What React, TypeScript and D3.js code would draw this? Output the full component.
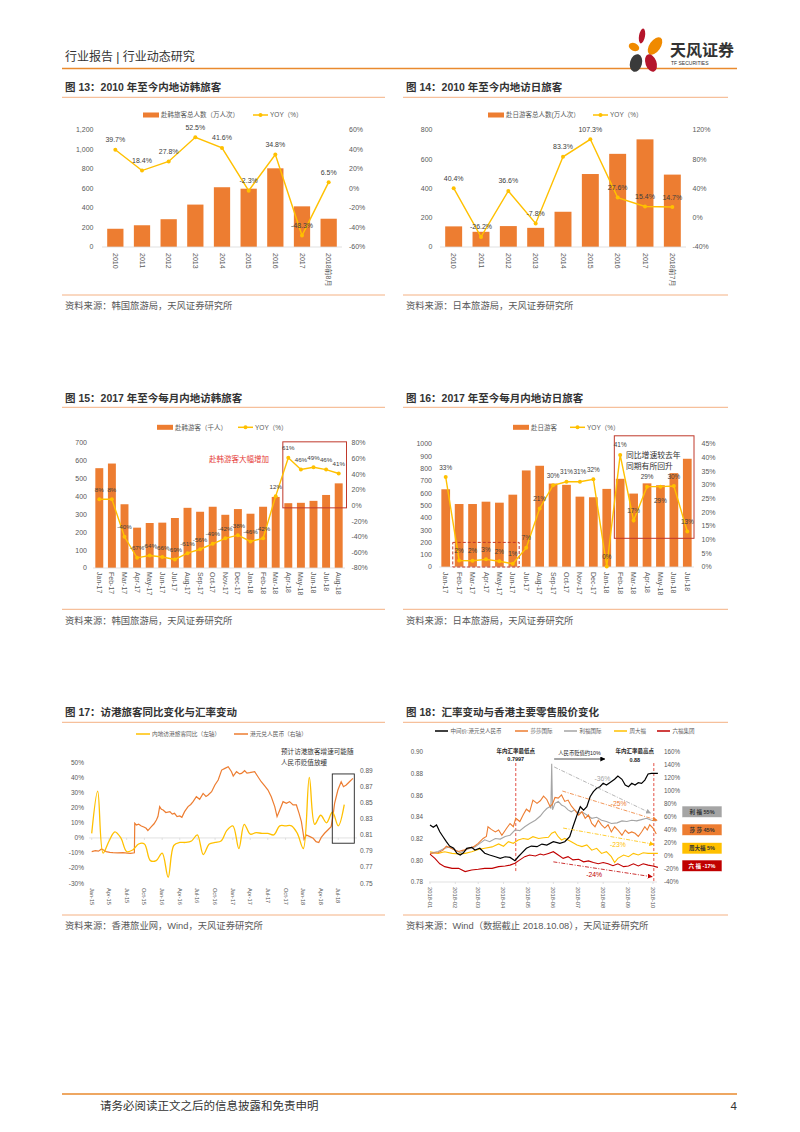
import React from "react";
import * as d3 from "d3";

const SANS = "'Liberation Sans', Arial, 'Noto Sans CJK SC', sans-serif";
const ORANGE = "#ED7D31";
const GOLD = "#FFC000";
const TXT = "#595959";
const RULE = "#F4B183";

// ---------------- 图13 ----------------
const krYears = ["2010", "2011", "2012", "2013", "2014", "2015", "2016", "2017", "2018前8月"];
const krVisitors = [187, 223, 285, 435, 613, 598, 807, 417, 290];
const krYoy = [39.7, 18.4, 27.8, 52.5, 41.6, -2.3, 34.8, -48.3, 6.5];

// ---------------- 图14 ----------------
const jpYears = ["2010", "2011", "2012", "2013", "2014", "2015", "2016", "2017", "2018前7月"];
const jpVisitors = [141, 104, 143, 131, 241, 499, 637, 736, 495];
const jpYoy = [40.4, -26.2, 36.6, -7.8, 83.3, 107.3, 27.6, 15.4, 14.7];

// ---------------- 图15 ----------------
const krMonths = ["Jan-17", "Feb-17", "Mar-17", "Apr-17", "May-17", "Jun-17", "Jul-17", "Aug-17", "Sep-17", "Oct-17", "Nov-17", "Dec-17", "Jan-18", "Feb-18", "Mar-18", "Apr-18", "May-18", "Jun-18", "Jul-18", "Aug-18"];
const krMonthly = [559, 585, 357, 226, 252, 254, 280, 337, 315, 343, 298, 330, 304, 343, 398, 363, 365, 376, 409, 474];
const krMonthlyYoy = [8, 8, -40, -67, -64, -66, -69, -61, -56, -49, -42, -38, -46, -42, 12, 61, 46, 49, 46, 41];

// ---------------- 图16 ----------------
const jpMonths = ["Jan-17", "Feb-17", "Mar-17", "Apr-17", "May-17", "Jun-17", "Jul-17", "Aug-17", "Sep-17", "Oct-17", "Nov-17", "Dec-17", "Jan-18", "Feb-18", "Mar-18", "Apr-18", "May-18", "Jun-18", "Jul-18"];
const jpMonthly = [632, 512, 512, 531, 523, 588, 785, 823, 678, 668, 572, 567, 635, 717, 597, 680, 665, 763, 880];
const jpMonthlyYoy = [32.9, 2.4, 2.3, 2.8, 2.1, 1.2, 7, 21.4, 29.9, 31.2, 31.2, 32.1, 0.2, 41, 17, 29.4, 29.4, 29.6, 13];

// ---------------- 图17 ----------------
const hkYoyStart = new Date(2015, 0, 1);
const hkYoy = [3, 31, -10, -2, 4, 0, -9, -8, -4, -4, -15, -15, -10, -26, -5, -3, -3, -2, 2, -11, -4, -3, -2, 5, 8, -7, 9, 2.5, 3.5, 3, 3, 2, 8, 8, 8, 3, -7, 40, 9, 15, 10, 17, 8, 22];
const hkdCny: [string, number][] = [
  ["2015-01-01", 0.7894], ["2015-01-20", 0.7905], ["2015-02-05", 0.79], ["2015-02-21", 0.7927], ["2015-03-05", 0.7912],
  ["2015-03-17", 0.7894], ["2015-04-05", 0.7885], ["2015-04-21", 0.7881], ["2015-05-15", 0.7878], ["2015-06-12", 0.7881],
  ["2015-07-05", 0.7876], ["2015-07-21", 0.7873], ["2015-08-10", 0.788], ["2015-08-12", 0.8246], ["2015-08-20", 0.8225],
  ["2015-09-01", 0.8235], ["2015-09-15", 0.8213], ["2015-09-28", 0.82], ["2015-10-10", 0.8184], ["2015-10-19", 0.8155],
  ["2015-11-06", 0.8204], ["2015-11-20", 0.824], ["2015-12-02", 0.8287], ["2015-12-10", 0.833], ["2015-12-19", 0.8453],
  ["2015-12-28", 0.842], ["2016-01-06", 0.8411], ["2016-01-20", 0.838], ["2016-02-10", 0.8391], ["2016-02-22", 0.836],
  ["2016-03-05", 0.837], ["2016-03-18", 0.833], ["2016-04-01", 0.8337], ["2016-04-12", 0.832], ["2016-04-26", 0.8391],
  ["2016-05-14", 0.8453], ["2016-05-28", 0.848], ["2016-06-09", 0.8515], ["2016-06-26", 0.8577], ["2016-07-13", 0.8544],
  ["2016-07-31", 0.8618], ["2016-08-15", 0.858], ["2016-08-26", 0.8598], ["2016-09-13", 0.8639], ["2016-09-30", 0.8722],
  ["2016-10-17", 0.8784], ["2016-11-04", 0.8908], ["2016-11-21", 0.8929], ["2016-12-08", 0.895], ["2016-12-25", 0.8888],
  ["2017-01-03", 0.8834], ["2017-01-20", 0.8888], ["2017-02-05", 0.886], ["2017-02-15", 0.8867], ["2017-03-03", 0.89],
  ["2017-03-15", 0.887], ["2017-03-29", 0.8875], ["2017-04-24", 0.8888], ["2017-05-11", 0.8825], ["2017-05-28", 0.8763],
  ["2017-06-15", 0.871], ["2017-07-02", 0.866], ["2017-07-19", 0.8577], ["2017-08-06", 0.8453], ["2017-08-18", 0.8329],
  ["2017-09-01", 0.8411], ["2017-09-18", 0.8515], ["2017-10-05", 0.8494], ["2017-10-22", 0.8515], ["2017-11-09", 0.8474],
  ["2017-11-26", 0.8474], ["2017-12-10", 0.837], ["2017-12-22", 0.8267], ["2018-01-05", 0.8047], ["2018-01-17", 0.8101],
  ["2018-02-04", 0.808], ["2018-02-21", 0.8059], ["2018-03-08", 0.8018], ["2018-03-22", 0.8006], ["2018-04-04", 0.8072],
  ["2018-04-21", 0.8122], ["2018-05-08", 0.8163], ["2018-05-25", 0.8204], ["2018-06-03", 0.8329], ["2018-06-12", 0.8494],
  ["2018-06-29", 0.866], ["2018-07-16", 0.8763], ["2018-07-28", 0.8701], ["2018-08-11", 0.8722], ["2018-08-28", 0.8763],
  ["2018-09-15", 0.8805],
];

// ---------------- 图18 (day offset from 2018-01-01, value) ----------------
const cnyMid: [number, number][] = [[0, .8326], [4, .8305], [8, .8326], [12, .8264], [16, .8218], [20, .8172], [24, .8132], [29, .8111], [33, .8065], [37, .8049], [41, .807], [45, .8111], [51, .812], [55, .8095], [61, .8111], [67, .8065], [73, .8049], [80, .8033], [86, .8018], [92, .8033], [98, .8027], [104, .7997], [108, .8033], [112, .8065], [118, .8111], [124, .8132], [131, .8126], [137, .815], [143, .8141], [151, .8172], [159, .8157], [165, .8172], [171, .8218], [175, .831], [180, .8418], [184, .8495], [188, .8464], [192, .8495], [196, .8587], [200, .8634], [204, .8665], [208, .868], [212, .8711], [216, .8695], [220, .8717], [226, .8748], [230, .8778], [235, .8748], [239, .8695], [243, .868], [247, .8711], [251, .8695], [255, .8717], [259, .8711], [263, .8741], [267, .8797], [271, .8803], [279, .8803]];
const sasa: [number, number][] = [[0, 4], [10, 5], [16, 9], [20, 15], [24, 13], [29, 10], [35, 7], [41, 9], [47, 12], [53, 14], [59, 19.5], [65, 27], [69, 30], [71, 45], [75, 41], [80, 37], [84, 40], [88, 32], [94, 43], [98, 50], [102, 45], [105, 58], [110, 53], [114, 63], [118, 72], [122, 68], [126, 86], [131, 81], [135, 85], [139, 92], [143, 87], [147, 76], [150, 80], [153, 90], [157, 89], [161, 94], [165, 84], [169, 86], [173, 77], [177, 71], [182, 63], [186, 68], [190, 58], [194, 63], [198, 50], [202, 45], [206, 55], [210, 48], [214, 43], [218, 48], [222, 37], [226, 45], [230, 40], [235, 32], [239, 40], [243, 35], [247, 37], [251, 35], [255, 30], [259, 37], [263, 45], [266, 40], [269, 48], [273, 43], [277, 34]];
const lifung: [number, number][] = [[0, 4], [10, 7], [18, 12], [24, 14], [31, 9], [37, 5], [43, 9], [49, 12], [55, 14], [61, 19.5], [67, 25], [73, 22], [80, 27], [86, 26], [92, 30], [98, 32], [104, 40], [110, 39], [116, 45], [122, 50], [129, 55], [135, 61.5], [139, 68], [143, 73], [147, 76], [148, 73], [149, 142], [150, 71], [153, 81], [157, 84], [161, 78.5], [165, 76], [169, 71], [173, 68], [177, 71], [182, 66], [186, 68], [192, 63], [198, 58], [204, 59.5], [210, 55], [216, 53], [222, 50], [229, 51], [235, 54], [241, 53], [247, 55], [253, 54], [259, 56], [265, 58], [271, 55], [277, 54]];
const ctf: [number, number][] = [[0, 6.6], [10, 4], [18, 6.6], [27, 4], [35, 3], [43, 4], [51, 6.6], [59, 10], [67, 12], [76, 14], [84, 18.5], [90, 15], [96, 22], [102, 19.5], [108, 24.6], [114, 27], [120, 25.6], [126, 29.7], [133, 27], [139, 28], [145, 28.7], [149, 35], [153, 37.4], [157, 29.7], [161, 24.6], [165, 27], [169, 24.6], [173, 22], [180, 17], [186, 14.4], [192, 17], [198, 9], [204, 11.8], [210, 4], [216, 6.6], [222, -1], [226, -10], [230, -3.6], [237, 1.5], [243, -1], [249, 4], [255, 1.5], [261, 5], [267, 4], [273, 4], [279, 4]];
const lukfook: [number, number][] = [[0, 3], [6, -3.6], [12, -12], [18, -16.4], [27, -19], [35, -19], [43, -24], [51, -21.5], [59, -20.5], [67, -19], [76, -19], [84, -16.4], [92, -15.4], [98, -14], [104, -11], [110, -6], [116, -1], [122, 1.5], [129, 0], [135, 3], [139, 1.5], [145, 4], [151, 6.6], [157, 1.5], [163, -3.6], [169, -1], [175, -6], [182, -5], [188, -9], [194, -7.5], [200, -10], [206, -12], [212, -10], [218, -12], [224, -15], [230, -12], [237, -16.4], [243, -15.4], [249, -12], [255, -15.4], [261, -12], [267, -14], [273, -15.4], [279, -17.5]];
const lowDay = 105;
const highDay = 274;
const trends = [
  { color: "#A5A5A5", from: [152, 137], to: [270, 66], label: "-36%", at: [211, 119] },
  { color: ORANGE, from: [162, 100], to: [278, 55], label: "-25%", at: [231, 80] },
  { color: GOLD, from: [163, 43], to: [274, 18], label: "-23%", at: [230, 17] },
  { color: "#C00000", from: [151, -9], to: [272, -32], label: "-24%", at: [201, -28] },
];
const endBoxes = [
  { text: "利 福  55%", fill: "#A5A5A5", color: "#333" },
  { text: "莎 莎  45%", fill: ORANGE, color: "#333" },
  { text: "周大福  5%", fill: GOLD, color: "#333" },
  { text: "六 福  -17%", fill: "#C00000", color: "#fff" },
];

type ComboCfg = {
  cats: string[]; bars: number[]; yoy: number[];
  l: number; r: number; t: number; b: number; pad: number;
  leftDomain: [number, number]; leftStep: number; leftFmt: (v: number) => string; leftX: number;
  rightDomain: [number, number]; rightStep: number; rightX: number;
  catY: number; labelFmt: (v: number) => string; below?: number[]; labelFs?: number;
  legendY: number; barLegendX: number; barLegendText: string; lineLegendX: number;
  extras?: (s: any) => React.ReactNode;
};

function ComboChart(c: ComboCfg) {
  const xb = d3.scaleBand<string>().domain(c.cats).range([c.l, c.r]).paddingInner(c.pad).paddingOuter(c.pad / 2);
  const yl = d3.scaleLinear().domain(c.leftDomain).range([c.b, c.t]);
  const yr = d3.scaleLinear().domain(c.rightDomain).range([c.b, c.t]);
  const lt = d3.range(c.leftDomain[0], c.leftDomain[1] + 1e-9, c.leftStep);
  const rt = d3.range(c.rightDomain[0], c.rightDomain[1] + 1e-9, c.rightStep);
  const cx = (i: number) => (xb(c.cats[i]) as number) + xb.bandwidth() / 2;
  const path = d3.line<number>().x((_, i) => cx(i)).y((v) => yr(v))(c.yoy) || "";
  const fs = 7;
  const lfs = c.labelFs || 7;
  return (
    <g fontFamily={SANS}>
      <rect x={c.barLegendX} y={c.legendY - 2.5} width={16} height={5} fill={ORANGE} />
      <text x={c.barLegendX + 18} y={c.legendY} dy="0.35em" fontSize={6.5} fill={TXT}>{c.barLegendText}</text>
      <line x1={c.lineLegendX} x2={c.lineLegendX + 15} y1={c.legendY} y2={c.legendY} stroke={GOLD} strokeWidth={1.5} />
      <circle cx={c.lineLegendX + 7.5} cy={c.legendY} r={2} fill={GOLD} />
      <text x={c.lineLegendX + 17} y={c.legendY} dy="0.35em" fontSize={6.5} fill={TXT}>YOY（%）</text>
      {c.bars.map((v, i) => (
        <rect key={i} x={xb(c.cats[i])} y={yl(v)} width={xb.bandwidth()} height={yl(0) - yl(v)} fill={ORANGE} />
      ))}
      <line x1={c.l} x2={c.r} y1={c.b} y2={c.b} stroke="#D9D9D9" strokeWidth={0.8} />
      {lt.map((v) => (
        <text key={"l" + v} x={c.leftX} y={yl(v)} dy="0.35em" textAnchor="end" fontSize={fs} fill={TXT}>{c.leftFmt(v)}</text>
      ))}
      {rt.map((v) => (
        <text key={"r" + v} x={c.rightX} y={yr(v)} dy="0.35em" textAnchor="start" fontSize={fs} fill={TXT}>{`${v}%`}</text>
      ))}
      {c.cats.map((cat, i) => (
        <text key={cat} transform={`translate(${cx(i)},${c.catY}) rotate(90)`} dy="0.35em" fontSize={fs} fill={TXT}>{cat}</text>
      ))}
      {c.extras && c.extras({ xb, yl, yr })}
      <path d={path} fill="none" stroke={GOLD} strokeWidth={1.4} />
      {c.yoy.map((v, i) => (
        <circle key={i} cx={cx(i)} cy={yr(v)} r={2} fill={GOLD} />
      ))}
      {c.yoy.map((v, i) => {
        const below = c.below && c.below.includes(i);
        return (
          <text key={"t" + i} x={cx(i)} y={below ? yr(v) + 16.5 : yr(v) - 7.5} textAnchor="middle" fontSize={lfs} fill="#404040">{c.labelFmt(v)}</text>
        );
      })}
    </g>
  );
}

function Frame({ x, w, title, titleY, ulY, srcLineY, srcY, source }: any) {
  return (
    <g>
      <text x={x + 3} y={titleY} fontSize={10.5} fontWeight="bold" fill="#333">{title}</text>
      <line x1={x} x2={x + w} y1={ulY} y2={ulY} stroke={RULE} strokeWidth={1} />
      <line x1={x} x2={x + w} y1={srcLineY} y2={srcLineY} stroke={RULE} strokeWidth={1} />
      <text x={x + 3} y={srcY} fontSize={9.3} fill={TXT}>{source}</text>
    </g>
  );
}

function Chart17() {
  const xs = d3.scaleTime().domain([new Date(2014, 11, 18), new Date(2018, 9, 6)]).range([89, 357]);
  const yl = d3.scaleLinear().domain([-30, 50]).range([883.3, 762.3]);
  const yr = d3.scaleLinear().domain([0.75, 0.89]).range([883.3, 770.7]);
  const lt = d3.range(-30, 51, 10);
  const rt = d3.range(0, 8).map((i) => 0.75 + i * 0.02);
  const ticks = d3.timeMonth.every(3)!.range(new Date(2015, 0, 1), new Date(2018, 7, 1));
  const fmt = d3.timeFormat("%b-%y");
  const parse = d3.timeParse("%Y-%m-%d");
  const yPath = d3.line<number>().curve(d3.curveCatmullRom.alpha(0.5))
    .x((_, i) => xs(d3.timeMonth.offset(hkYoyStart, i))).y((v) => yl(v))(hkYoy) || "";
  const oPath = d3.line<[string, number]>().x((d) => xs(parse(d[0]) as Date)).y((d) => yr(d[1]))(hkdCny) || "";
  return (
    <g fontFamily={SANS}>
      <line x1={136} x2={150} y1={734} y2={734} stroke={GOLD} strokeWidth={1.5} />
      <text x={152} y={734} dy="0.35em" fontSize={5.7} fill={TXT}>内地访港旅客同比（左轴）</text>
      <line x1={234} x2={248} y1={734} y2={734} stroke={ORANGE} strokeWidth={1.5} />
      <text x={250} y={734} dy="0.35em" fontSize={5.7} fill={TXT}>港元兑人民币（右轴）</text>
      <text x={281} y={752} dy="0.35em" fontSize={6.6} fill="#333">预计访港旅客增速可能随</text>
      <text x={281} y={763} dy="0.35em" fontSize={6.6} fill="#333">人民币贬值放缓</text>
      {lt.map((v) => (
        <text key={v} x={84} y={yl(v)} dy="0.35em" textAnchor="end" fontSize={6.5} fill={TXT}>{`${v}%`}</text>
      ))}
      {rt.map((v) => (
        <text key={v} x={360} y={yr(v)} dy="0.35em" fontSize={6.5} fill={TXT}>{v.toFixed(2)}</text>
      ))}
      <line x1={89} x2={357} y1={yl(0)} y2={yl(0)} stroke="#D9D9D9" strokeWidth={0.8} />
      {ticks.map((d) => (
        <g key={+d}>
          <line x1={xs(d)} x2={xs(d)} y1={yl(0)} y2={yl(0) + 2} stroke="#D9D9D9" strokeWidth={0.8} />
          <text transform={`translate(${xs(d)},888) rotate(90)`} dy="0.35em" fontSize={5.6} fill={TXT}>{fmt(d)}</text>
        </g>
      ))}
      <path d={oPath} fill="none" stroke={ORANGE} strokeWidth={1.2} />
      <path d={yPath} fill="none" stroke={GOLD} strokeWidth={1.3} />
      <rect x={xs(new Date(2018, 4, 31))} y={yl(42.3)} width={xs(new Date(2018, 8, 22)) - xs(new Date(2018, 4, 31))} height={yl(-3.5) - yl(42.3)} fill="none" stroke="#222" strokeWidth={0.9} />
    </g>
  );
}

function Chart18() {
  const base = new Date(2018, 0, 1);
  const day = (n: number) => d3.timeDay.offset(base, n);
  const xs = d3.scaleTime().domain([base, new Date(2018, 9, 1)]).range([430, 653]);
  const yl = d3.scaleLinear().domain([0.78, 0.9]).range([882, 752]);
  const yr = d3.scaleLinear().domain([-40, 160]).range([882, 752]);
  const lt = d3.range(0, 7).map((i) => 0.78 + i * 0.02);
  const rt = d3.range(-40, 161, 20);
  const months = d3.timeMonth.range(base, new Date(2018, 9, 2));
  const fmt = d3.timeFormat("%Y-%m");
  const lineR = (data: [number, number][]) => d3.line<[number, number]>().x((d) => xs(day(d[0]))).y((d) => yr(d[1]))(data) || "";
  const lineL = d3.line<[number, number]>().x((d) => xs(day(d[0]))).y((d) => yl(d[1]))(cnyMid) || "";
  const legend = [
    { x: 435, c: "#000", t: "中间价:港元兑人民币" },
    { x: 515, c: ORANGE, t: "莎莎国际" },
    { x: 564, c: "#A5A5A5", t: "利福国际" },
    { x: 614, c: GOLD, t: "周大福" },
    { x: 657, c: "#C00000", t: "六福集团" },
  ];
  const boxY = [806, 824, 842.5, 860];
  return (
    <g fontFamily={SANS}>
      <defs>
        {trends.map((t, i) => (
          <marker key={i} id={`tr${i}`} viewBox="0 0 10 10" refX="9" refY="5" markerWidth="5" markerHeight="5" markerUnits="userSpaceOnUse" orient="auto">
            <path d="M0,0 L10,5 L0,10 z" fill={t.color} />
          </marker>
        ))}
        <marker id="arrBlack" viewBox="0 0 10 10" refX="9" refY="5" markerWidth="5" markerHeight="5" markerUnits="userSpaceOnUse" orient="auto">
          <path d="M0,0 L10,5 L0,10 z" fill="#000" />
        </marker>
      </defs>
      {legend.map((g) => (
        <g key={g.t}>
          <line x1={g.x} x2={g.x + 13} y1={731} y2={731} stroke={g.c} strokeWidth={1.5} />
          <text x={g.x + 15.5} y={731} dy="0.35em" fontSize={5.5} fill={TXT}>{g.t}</text>
        </g>
      ))}
      {lt.map((v) => (
        <text key={v} x={423} y={yl(v)} dy="0.35em" textAnchor="end" fontSize={6.3} fill={TXT}>{v.toFixed(2)}</text>
      ))}
      {rt.map((v) => (
        <text key={v} x={664} y={yr(v)} dy="0.35em" fontSize={6.3} fill={TXT}>{`${v}%`}</text>
      ))}
      <line x1={429} x2={657} y1={882} y2={882} stroke="#D9D9D9" strokeWidth={0.8} />
      {months.map((d) => (
        <g key={+d}>
          <line x1={xs(d)} x2={xs(d)} y1={882} y2={884} stroke="#D9D9D9" strokeWidth={0.8} />
          <text transform={`translate(${xs(d)},887) rotate(90)`} dy="0.35em" fontSize={5.8} fill={TXT}>{fmt(d)}</text>
        </g>
      ))}
      <line x1={xs(day(lowDay))} x2={xs(day(lowDay))} y1={yr(143)} y2={yr(-26)} stroke="#E03C31" strokeWidth={0.9} strokeDasharray="3,2" />
      <line x1={xs(day(highDay))} x2={xs(day(highDay))} y1={yr(143)} y2={yr(-40)} stroke="#E03C31" strokeWidth={0.9} strokeDasharray="3,2" />
      <text x={xs(day(lowDay))} y={751} dy="0.35em" textAnchor="middle" fontSize={5.5} fontWeight="bold" fill="#222">年内汇率最低点</text>
      <text x={xs(day(lowDay))} y={759.5} dy="0.35em" textAnchor="middle" fontSize={5.5} fontWeight="bold" fill="#222">0.7997</text>
      <text x={xs(day(highDay)) - 19} y={751.5} dy="0.35em" textAnchor="middle" fontSize={5.5} fontWeight="bold" fill="#222">年内汇率最高点</text>
      <text x={xs(day(highDay)) - 19} y={760} dy="0.35em" textAnchor="middle" fontSize={5.5} fontWeight="bold" fill="#222">0.88</text>
      <text x={(xs(day(152)) + xs(day(214))) / 2} y={753.5} dy="0.35em" textAnchor="middle" fontSize={5.3} fill="#222">人民币贬值约10%</text>
      <line x1={xs(day(152))} x2={xs(day(214))} y1={759} y2={759} stroke="#000" strokeWidth={0.7} markerEnd="url(#arrBlack)" />
      <path d={lineR(lukfook)} fill="none" stroke="#C00000" strokeWidth={1.1} />
      <path d={lineR(ctf)} fill="none" stroke={GOLD} strokeWidth={1.1} />
      <path d={lineR(lifung)} fill="none" stroke="#A5A5A5" strokeWidth={1.1} />
      <path d={lineR(sasa)} fill="none" stroke={ORANGE} strokeWidth={1.1} />
      <path d={lineL} fill="none" stroke="#000" strokeWidth={1.2} />
      {trends.map((t, i) => (
        <g key={t.label}>
          <line x1={xs(day(t.from[0]))} y1={yr(t.from[1])} x2={xs(day(t.to[0]))} y2={yr(t.to[1])} stroke={t.color} strokeWidth={0.8} strokeDasharray="4,1.5,1,1.5" markerEnd={`url(#tr${i})`} />
          <text x={xs(day(t.at[0]))} y={yr(t.at[1])} dy="0.35em" textAnchor="middle" fontSize={6.8} fill={t.color}>{t.label}</text>
        </g>
      ))}
      {endBoxes.map((b, i) => (
        <g key={b.text}>
          <rect x={682} y={boxY[i]} width={40} height={11.5} fill={b.fill} stroke="#fff" strokeWidth={0.6} />
          <text x={702} y={boxY[i] + 5.75} dy="0.35em" textAnchor="middle" fontSize={5.5} fontWeight="bold" fill={b.color}>{b.text}</text>
        </g>
      ))}
    </g>
  );
}

export default function App() {
  const comma = d3.format(",");
  const f1 = (v: number) => `${v.toFixed(1)}%`;
  const f0 = (v: number) => `${Math.round(v)}%`;
  return (
    <div style={{ position: "absolute", left: 0, top: 0 }}>
      <svg width={800} height={1132} viewBox="0 0 800 1132" fontFamily={SANS} style={{ display: "block", background: "#fff" }}>
        {/* header */}
        <text x={65} y={61} fontSize={12} fill="#333">行业报告 | 行业动态研究</text>
        <line x1={62} x2={737} y1={68.5} y2={68.5} stroke="#E98A2E" strokeWidth={1.6} />
        <g>
          <ellipse cx={642} cy={36} rx={3} ry={7.5} transform="rotate(10 642 36)" fill="#B5152B" />
          <ellipse cx={655} cy={46} rx={5.5} ry={10} transform="rotate(35 655 46)" fill="#F08A00" />
          <ellipse cx={634} cy={47} rx={5.5} ry={3.8} transform="rotate(25 634 47)" fill="#F08A00" />
          <ellipse cx={636} cy={63} rx={6} ry={9} transform="rotate(15 636 63)" fill="#3A3A3A" />
          <ellipse cx={651} cy={63} rx={5.5} ry={9} transform="rotate(-20 651 63)" fill="#B5152B" />
        </g>
        <text x={670} y={56} fontSize={16} fontWeight="bold" fill="#333">天风证券</text>
        <text x={671} y={65} fontSize={5} fill="#333">TF SECURITIES</text>

        {/* 图13 */}
        <Frame x={62} w={323} title="图 13：2010 年至今内地访韩旅客" titleY={90.5} ulY={97.3} srcLineY={295} srcY={308.5} source="资料来源：韩国旅游局，天风证券研究所" />
        <ComboChart cats={krYears} bars={krVisitors} yoy={krYoy} l={102} r={342} t={130} b={247} pad={0.39}
          leftDomain={[0, 1200]} leftStep={200} leftFmt={comma} leftX={93.5}
          rightDomain={[-60, 60]} rightStep={20} rightX={349}
          catY={253} labelFmt={f1} legendY={115} barLegendX={143} barLegendText="赴韩旅客总人数（万人次）" lineLegendX={253} />

        {/* 图14 */}
        <Frame x={403} w={325} title="图 14：2010 年至今内地访日旅客" titleY={90.5} ulY={97.3} srcLineY={295} srcY={308.5} source="资料来源：日本旅游局，天风证券研究所" />
        <ComboChart cats={jpYears} bars={jpVisitors} yoy={jpYoy} l={440} r={686} t={130} b={247} pad={0.38}
          leftDomain={[0, 800]} leftStep={200} leftFmt={comma} leftX={432.5}
          rightDomain={[-40, 120]} rightStep={40} rightX={692.5}
          catY={253} labelFmt={f1} legendY={115} barLegendX={488} barLegendText="赴日游客总人数(万人次）" lineLegendX={593} />

        {/* 图15 */}
        <Frame x={62} w={323} title="图 15：2017 年至今每月内地访韩旅客" titleY={401.5} ulY={407.3} srcLineY={609.3} srcY={623.5} source="资料来源：韩国旅游局，天风证券研究所" />
        <ComboChart cats={krMonths} bars={krMonthly} yoy={krMonthlyYoy} l={93} r={345} t={443} b={568} pad={0.37}
          leftDomain={[0, 700]} leftStep={100} leftFmt={(v) => `${v}`} leftX={87}
          rightDomain={[-80, 80]} rightStep={20} rightX={351.5}
          catY={572} labelFmt={f0} labelFs={6.2} legendY={427.3} barLegendX={157} barLegendText="赴韩游客（千人）" lineLegendX={238}
          extras={({ xb, yr }: any) => (
            <g>
              <rect x={xb("Apr-18") - 1.5} y={yr(81.5)} width={346.5 - (xb("Apr-18") - 1.5)} height={yr(-3) - yr(81.5)} fill="none" stroke="#C0392B" strokeWidth={1} />
              <text x={209} y={459.5} dy="0.35em" fontSize={7.5} fill="#E53935">赴韩游客大幅增加</text>
            </g>
          )} />

        {/* 图16 */}
        <Frame x={403} w={325} title="图 16：2017 年至今每月内地访日旅客" titleY={401.5} ulY={407.3} srcLineY={609.3} srcY={623.5} source="资料来源：日本旅游局，天风证券研究所" />
        <ComboChart cats={jpMonths} bars={jpMonthly} yoy={jpMonthlyYoy} l={439} r={694} t={444} b={567} pad={0.35}
          leftDomain={[0, 1000]} leftStep={100} leftFmt={(v) => `${v}`} leftX={432}
          rightDomain={[0, 45]} rightStep={5} rightX={701.5}
          catY={572} labelFmt={f0} labelFs={6.4} below={[16]} legendY={427.3} barLegendX={513} barLegendText="赴日游客" lineLegendX={570}
          extras={({ xb, yl, yr }: any) => (
            <g>
              <rect x={xb("Feb-18") - 1.5} y={yr(48)} width={694 - (xb("Feb-18") - 1.5)} height={yr(10.5) - yr(48)} fill="none" stroke="#C0392B" strokeWidth={1} />
              <rect x={xb("Feb-17") - 2} y={yl(200)} width={(xb("Jun-17") + xb.bandwidth() + 2) - (xb("Feb-17") - 2)} height={yl(0) - yl(200)} fill="none" stroke="#C0392B" strokeWidth={1} strokeDasharray="3,2" />
              <text x={626} y={455} dy="0.35em" fontSize={7.8} fill="#333">同比增速较去年</text>
              <text x={626} y={466} dy="0.35em" fontSize={7.8} fill="#333">同期有所回升</text>
            </g>
          )} />

        {/* 图17 */}
        <Frame x={62} w={323} title="图 17：访港旅客同比变化与汇率变动" titleY={715.5} ulY={722.3} srcLineY={915} srcY={929} source="资料来源：香港旅业网，Wind，天风证券研究所" />
        <Chart17 />

        {/* 图18 */}
        <Frame x={403} w={325} title="图 18：汇率变动与香港主要零售股价变化" titleY={715.5} ulY={722.3} srcLineY={915} srcY={929} source="资料来源：Wind（数据截止 2018.10.08），天风证券研究所" />
        <Chart18 />

        {/* footer */}
        <line x1={62} x2={737} y1={1094} y2={1094} stroke="#E98A2E" strokeWidth={1.6} />
        <text x={100} y={1110} fontSize={11.5} fill="#333">请务必阅读正文之后的信息披露和免责申明</text>
        <text x={737} y={1110} fontSize={11.5} textAnchor="end" fill="#333">4</text>
      </svg>
    </div>
  );
}
